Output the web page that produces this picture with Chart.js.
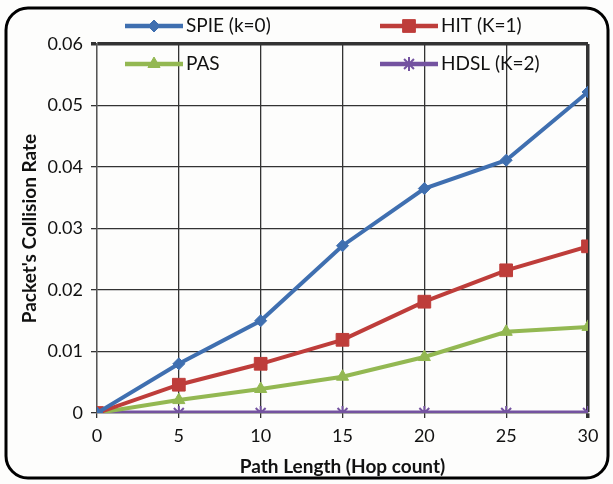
<!DOCTYPE html>
<html>
<head>
<meta charset="utf-8">
<script src="https://cdn.jsdelivr.net/npm/chart.js@4.4.0/dist/chart.umd.min.js"></script>
<style>
  html, body { margin: 0; padding: 0; background: #fff; }
  #wrap { width: 613px; height: 484px; position: relative; }
</style>
</head>
<body>
<div id="wrap"><canvas id="ch" width="613" height="484"></canvas></div>
<script>
const hops = [0, 5, 10, 15, 20, 25, 30];
const spie = [0, 0.0080, 0.0150, 0.0272, 0.0365, 0.0411, 0.0522];
const hit  = [0, 0.0046, 0.0080, 0.0119, 0.0181, 0.0232, 0.0271];
const pas  = [0, 0.0021, 0.0039, 0.0059, 0.0091, 0.0132, 0.0140];
const hdsl = [0, 0, 0, 0, 0, 0, 0];
const names = ['SPIE (k=0)', 'HIT (K=1)', 'PAS', 'HDSL (K=2)'];

const font = "Lato, 'Open Sans', sans-serif";

function series(label, vals, color, style, r, w) {
    return {
        label: label,
        data: vals.map((v, i) => ({ x: hops[i], y: v })),
        borderColor: color, backgroundColor: color,
        borderWidth: w, pointStyle: style, pointRadius: r,
        pointBorderWidth: style === 'star' ? 2 : 1,
        tension: 0
    };
}

// legend laid out like the original, partly overlapping the plot
const legendPlugin = {
    id: 'fixedLegend',
    afterDraw(chart) {
        const ctx = chart.ctx;
        const slots = [[125, 26], [380, 26], [125, 64], [380, 64]];
        chart.data.datasets.forEach((ds, i) => {
            const [x, y] = slots[i];
            ctx.save();
            ctx.strokeStyle = ds.borderColor;
            ctx.fillStyle = ds.borderColor;
            ctx.lineWidth = 4.5;
            ctx.beginPath(); ctx.moveTo(x, y); ctx.lineTo(x + 58, y); ctx.stroke();
            ctx.lineWidth = ds.pointBorderWidth;
            Chart.helpers.drawPoint(ctx, {
                pointStyle: ds.pointStyle, radius: ds.pointRadius, borderWidth: ds.pointBorderWidth
            }, x + 29, y);
            ctx.fillStyle = '#111';
            ctx.font = '19px ' + font;
            ctx.textBaseline = 'middle';
            ctx.fillText(ds.label, x + 61, y);
            ctx.restore();
        });
    },
    beforeDraw(chart) {
        const ctx = chart.ctx;
        ctx.save();
        ctx.fillStyle = '#fdfdfc';
        ctx.fillRect(0, 0, chart.width, chart.height);
        ctx.strokeStyle = '#000';
        ctx.lineWidth = 3;
        ctx.beginPath();
        ctx.roundRect(6, 8, 602, 470, 22);
        ctx.stroke();
        ctx.restore();
    }
};

new Chart(document.getElementById('ch'), {
    type: 'line',
    data: {
        datasets: [
            series(names[0], spie, '#3f6fb0', 'rectRot', 6, 4),
            series(names[1], hit, '#be3d3a', 'rect', 9, 4),
            series(names[2], pas, '#93b852', 'triangle', 7, 4),
            series(names[3], hdsl, '#7453a0', 'star', 7, 5)
        ]
    },
    options: {
        responsive: false, animation: false,
        layout: { padding: { left: 0, top: 44, right: 25, bottom: 0 } },
        plugins: { legend: { display: false }, tooltip: { enabled: false } },
        scales: {
            x: {
                type: 'linear', min: 0, max: 30,
                afterFit: s => { s.height = 71; },
                ticks: { stepSize: 5, color: '#111', padding: 7, font: { family: font, size: 18 } },
                grid: {
                    color: '#333', tickLength: 5,
                    lineWidth: c => c.tick && c.tick.value === 30 ? 3.5 : 1.3
                },
                border: { color: '#555', width: 1.3 },
                title: {
                    display: true, text: 'Path Length (Hop count)', color: '#111',
                    font: { family: font, size: 19, weight: 'bold' }, padding: { top: 0, bottom: 6 }
                }
            },
            y: {
                min: 0, max: 0.06,
                afterFit: s => { s.width = 97; },
                ticks: { stepSize: 0.01, color: '#111', padding: 8, font: { family: font, size: 18 },
                         callback: v => +v.toFixed(2) },
                grid: {
                    color: '#333', tickLength: 6,
                    lineWidth: c => c.tick && Math.abs(c.tick.value - 0.06) < 1e-9 ? 3.5 : 1.3
                },
                border: { color: '#555', width: 1.3 },
                title: {
                    display: true, text: "Packet's Collision Rate", color: '#111',
                    font: { family: font, size: 19, weight: 'bold' }, padding: { top: 18, bottom: 0 }
                }
            }
        }
    },
    plugins: [legendPlugin]
});
</script>
</body>
</html>
